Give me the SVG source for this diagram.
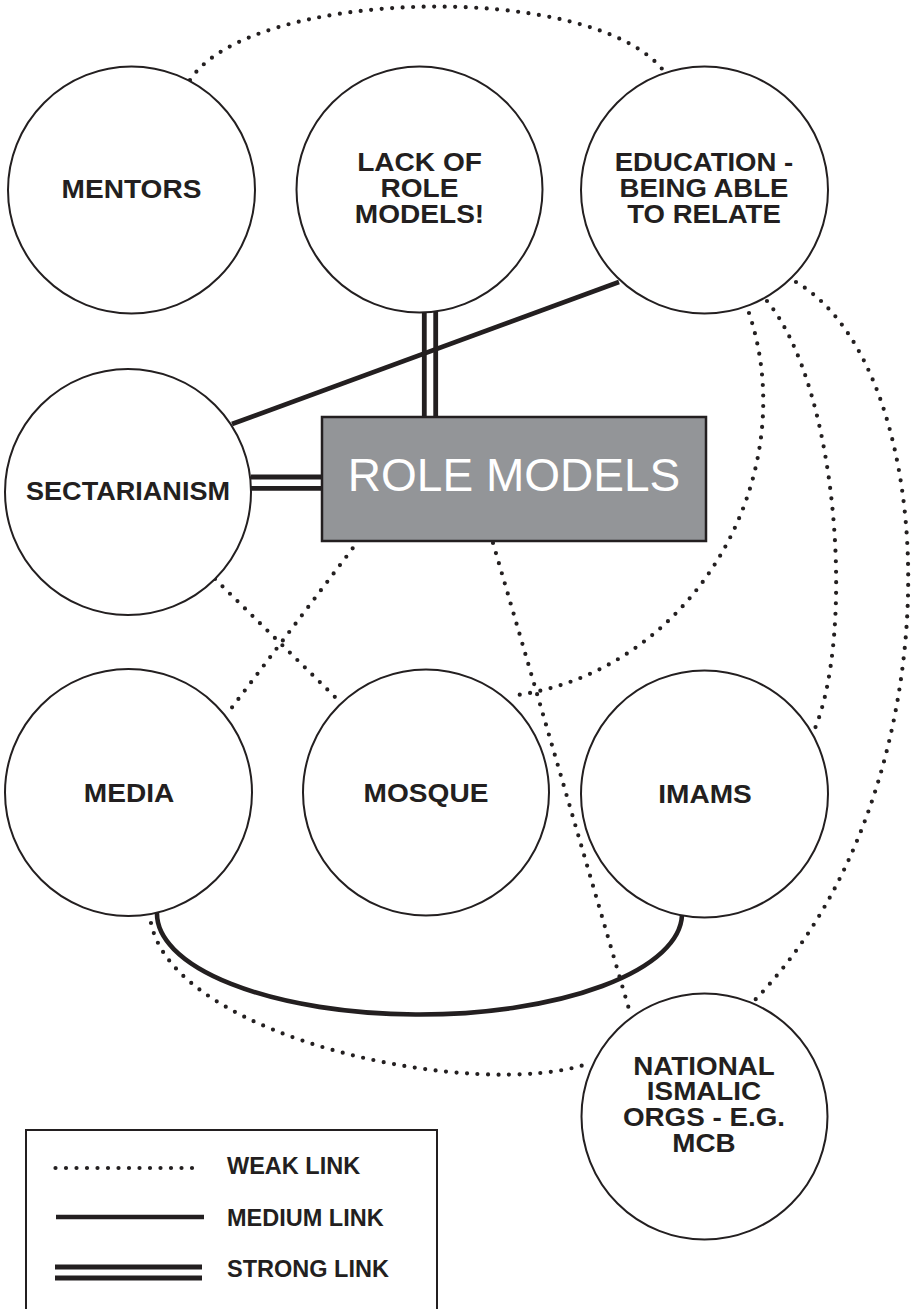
<svg xmlns="http://www.w3.org/2000/svg" width="915" height="1309" viewBox="0 0 915 1309">
<style>
.bg{fill:#ffffff}
.node{fill:#ffffff;stroke:#231f20;stroke-width:2}
.box{fill:#939598;stroke:#231f20;stroke-width:2.5}
.lbl{font-family:"Liberation Sans",Arial,sans-serif;font-weight:bold;font-size:26px;fill:#231f20;text-anchor:middle}
.big{font-family:"Liberation Sans",Arial,sans-serif;font-size:46px;fill:#ffffff;text-anchor:middle}
.leg{font-family:"Liberation Sans",Arial,sans-serif;font-weight:bold;font-size:23.5px;fill:#231f20}
.weak{fill:none;stroke:#231f20;stroke-width:4.2;stroke-linecap:round;stroke-dasharray:0 10.5}
.medium{fill:none;stroke:#231f20;stroke-width:4.6}
.strong{fill:none;stroke:#231f20;stroke-width:4.8}
.frame{fill:none;stroke:#231f20;stroke-width:2}
</style>
<rect class="bg" x="0" y="0" width="915" height="1309"/>
<g id="connectors">
  <path class="weak" d="M190,80 C250,-12 590,-20 663,70"/>
  <path class="weak" d="M215,579 L336,698"/>
  <path class="weak" d="M359,540 L227,714"/>
  <path class="weak" d="M493,543 L631,1016"/>
  <path class="weak" d="M749,313 C805,480 690,675 510,696"/>
  <path class="weak" d="M767,301 C840,390 855,640 813,733"/>
  <path class="weak" d="M796,282 C945,370 960,790 753,1002"/>
  <path class="weak" d="M151,923 C175,1040 480,1102 590,1063"/>
  <path class="medium" d="M232,424 L619,282"/>
  <path class="medium" d="M157,912 A262.5 101 0 0 0 682,915"/>
  <path class="strong" d="M424.3,312 V417 M435.7,312 V417"/>
  <path class="strong" d="M251,477 H322 M251,488.3 H322"/>
</g>
<g id="mentors">
  <circle class="node" cx="131.5" cy="190" r="123.5"/>
  <g transform="translate(131.5 0) scale(1.08 1)"><text class="lbl" x="0" y="198">MENTORS</text></g>
</g>
<g id="lack-of-role-models">
  <circle class="node" cx="419.5" cy="189.5" r="123"/>
  <g transform="translate(419.5 0) scale(1.08 1)">
    <text class="lbl" x="0" y="171.5">LACK OF</text>
    <text class="lbl" x="0" y="197.5">ROLE</text>
    <text class="lbl" x="0" y="223.5">MODELS!</text>
  </g>
</g>
<g id="education">
  <circle class="node" cx="704.5" cy="190" r="123.5"/>
  <g transform="translate(704 0) scale(1.06 1)">
    <text class="lbl" x="0" y="171.5">EDUCATION -</text>
    <text class="lbl" x="0" y="197.5">BEING ABLE</text>
    <text class="lbl" x="0" y="223.5">TO RELATE</text>
  </g>
</g>
<g id="sectarianism">
  <circle class="node" cx="128" cy="492" r="123"/>
  <text class="lbl" x="128" y="500" textLength="204" lengthAdjust="spacingAndGlyphs">SECTARIANISM</text>
</g>
<g id="role-models">
  <rect class="box" x="322" y="417" width="384" height="124"/>
  <text class="big" x="514" y="491">ROLE MODELS</text>
</g>
<g id="media">
  <circle class="node" cx="128.5" cy="792.5" r="123.5"/>
  <g transform="translate(129 0) scale(1.08 1)"><text class="lbl" x="0" y="802">MEDIA</text></g>
</g>
<g id="mosque">
  <circle class="node" cx="426" cy="792.5" r="123"/>
  <g transform="translate(426 0) scale(1.08 1)"><text class="lbl" x="0" y="802">MOSQUE</text></g>
</g>
<g id="imams">
  <circle class="node" cx="704.5" cy="794" r="123.5"/>
  <g transform="translate(705 0) scale(1.08 1)"><text class="lbl" x="0" y="803">IMAMS</text></g>
</g>
<g id="national">
  <circle class="node" cx="704.5" cy="1116.5" r="123"/>
  <g transform="translate(704 0) scale(1.07 1)">
    <text class="lbl" x="0" y="1075">NATIONAL</text>
    <text class="lbl" x="0" y="1100.5">ISMALIC</text>
    <text class="lbl" x="0" y="1126.5">ORGS - E.G.</text>
    <text class="lbl" x="0" y="1152">MCB</text>
  </g>
</g>
<g id="legend">
  <rect class="frame" x="26" y="1130" width="411" height="200"/>
  <path class="weak" d="M55.5,1168 H193"/>
  <path class="medium" d="M56,1217 H204"/>
  <path class="strong" d="M55,1267 H202 M55,1278 H202"/>
  <text class="leg" x="227" y="1174">WEAK LINK</text>
  <text class="leg" x="227" y="1226">MEDIUM LINK</text>
  <text class="leg" x="227" y="1277">STRONG LINK</text>
</g>
</svg>
